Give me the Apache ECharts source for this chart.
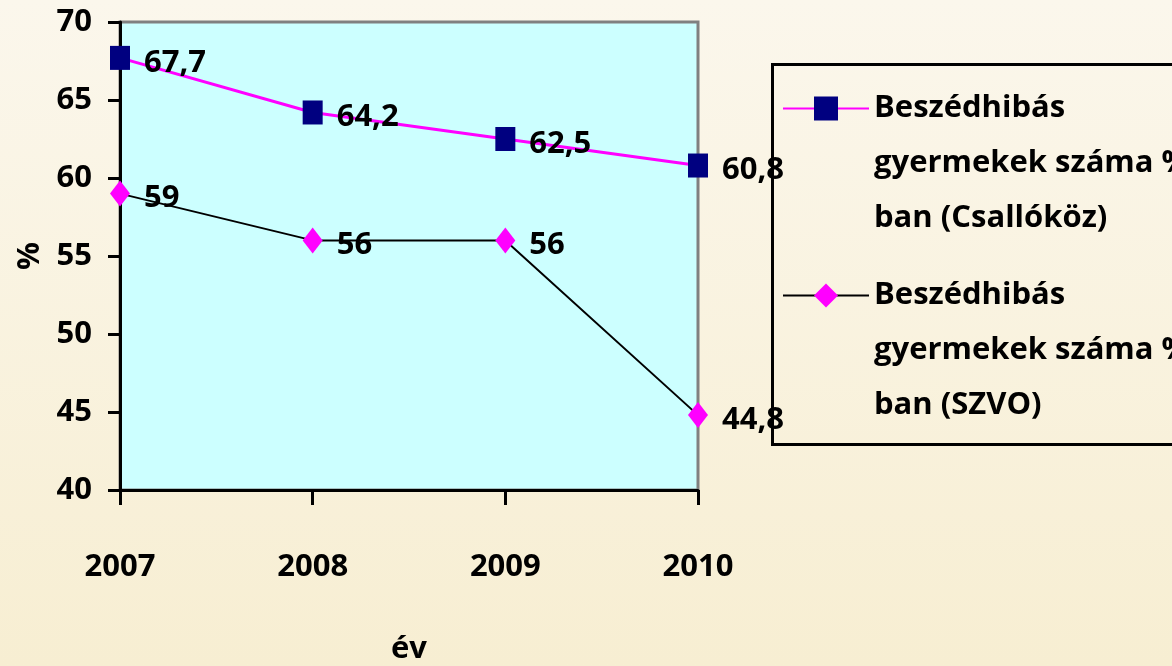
<!DOCTYPE html>
<html><head><meta charset="utf-8">
<script src="https://cdn.jsdelivr.net/npm/echarts@6/dist/echarts.min.js"></script>
<style>html,body{margin:0;padding:0;}#c{width:1172px;height:666px;}</style>
</head><body><div id="c"></div>
<script>
const years = ['2007', '2008', '2009', '2010'];
const csallokoz = [67.7, 64.2, 62.5, 60.8];
const szvo = [59, 56, 56, 44.8];
const seriesNames = ['Beszédhibás\ngyermekek száma %-\nban (Csallóköz)', 'Beszédhibás\ngyermekek száma %-\nban (SZVO)'];
const yMin = 40, yMax = 70, yStep = 5;

const FONT = '"Open Sans", sans-serif';
const FS = 31;
const chart = echarts.init(document.getElementById('c'));
const lbl = {
  show: true, position: 'right', distance: 14, offset: [0, 5],
  color: '#000', fontFamily: FONT, fontWeight: 'bold', fontSize: FS,
  formatter: p => String(p.value).replace('.', ',')
};
const legendText = {
  color: '#000', fontFamily: FONT, fontWeight: 'bold', fontSize: FS, lineHeight: 55
};
const legendFmt = name => '\n\n' + name;
chart.setOption({
  backgroundColor: {type: 'linear', x: 0, y: 0, x2: 0, y2: 1,
    colorStops: [{offset: 0, color: '#FBF7EC'}, {offset: 1, color: '#F7EED2'}]},
  animation: false,
  grid: {left: 120, right: 474, top: 22, bottom: 176, show: true, containLabel: false,
    outerBoundsMode: 'none',
    backgroundColor: '#CCFFFF', borderColor: '#808080', borderWidth: 3},
  xAxis: {
    type: 'category', data: years, boundaryGap: false,
    name: 'év', nameLocation: 'middle', nameGap: 144,
    nameTextStyle: {color: '#000', fontFamily: FONT, fontWeight: 'bold', fontSize: FS},
    axisLine: {lineStyle: {color: '#000', width: 3}},
    axisTick: {show: true, length: 15, lineStyle: {color: '#000', width: 3}, alignWithLabel: true},
    axisLabel: {color: '#000', fontFamily: FONT, fontWeight: 'bold', fontSize: FS, margin: 62},
    splitLine: {show: false}
  },
  yAxis: {
    type: 'value', min: yMin, max: yMax, interval: yStep,
    name: '%', nameLocation: 'middle', nameGap: 74, nameRotate: 90,
    nameTextStyle: {color: '#000', fontFamily: FONT, fontWeight: 'bold', fontSize: FS},
    axisLine: {show: true, lineStyle: {color: '#000', width: 3}},
    axisTick: {show: true, length: 12, lineStyle: {color: '#000', width: 3}},
    axisLabel: {color: '#000', fontFamily: FONT, fontWeight: 'bold', fontSize: FS, margin: 28},
    splitLine: {show: false}
  },
  legend: [
    {data: [seriesNames[0]], left: 782, top: -29, padding: 0, itemWidth: 86, itemHeight: 30,
     selectedMode: false, textStyle: legendText, formatter: legendFmt},
    {data: [seriesNames[1]], left: 782, top: 158, padding: 0, itemWidth: 86, itemHeight: 30,
     selectedMode: false, textStyle: legendText, formatter: legendFmt}
  ],
  graphic: [{type: 'rect', left: 770, top: 62, shape: {width: 430, height: 380},
    style: {fill: 'none', stroke: '#000', lineWidth: 3}, silent: true}],
  series: [
    {name: seriesNames[0], type: 'line', data: csallokoz,
     lineStyle: {color: '#FF00FF', width: 3},
     itemStyle: {color: '#000080'}, symbol: 'rect', symbolSize: [20, 24],
     label: lbl},
    {name: seriesNames[1], type: 'line', data: szvo,
     lineStyle: {color: '#000', width: 2},
     itemStyle: {color: '#FF00FF'}, symbol: 'diamond', symbolSize: [20, 26],
     label: lbl}
  ]
});
</script></body></html>
